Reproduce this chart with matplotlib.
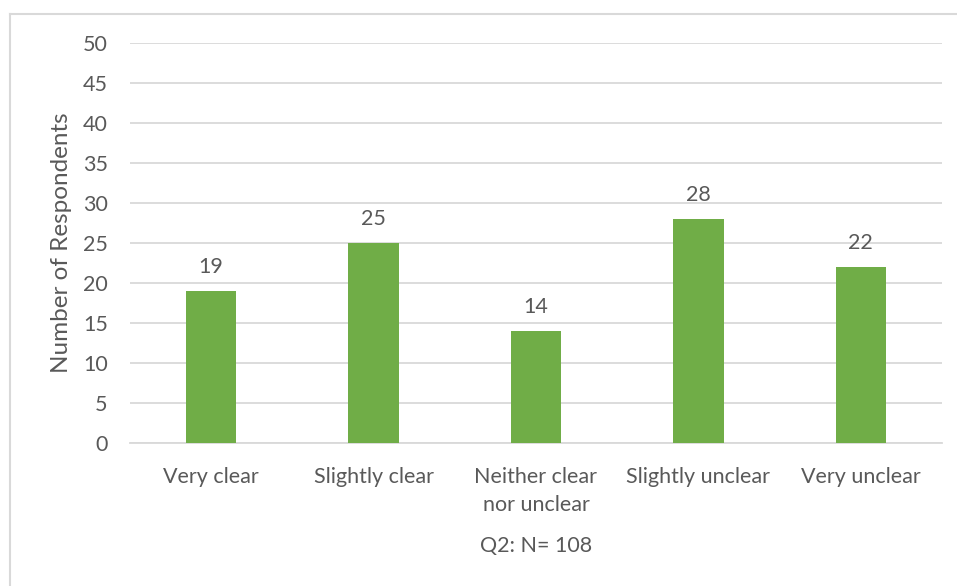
import matplotlib
matplotlib.use("Agg")
import matplotlib.pyplot as plt
from matplotlib.lines import Line2D

categories = ["Very clear", "Slightly clear", "Neither clear\nnor unclear",
              "Slightly unclear", "Very unclear"]
counts = [19, 25, 14, 28, 22]
y_ticks = [0, 5, 10, 15, 20, 25, 30, 35, 40, 45, 50]
y_label = "Number of Respondents"
x_title = "Q2: N= 108"

W, H = 957, 586
text_color = "#595959"
grid_color = "#d9d9d9"
bar_color = "#70ad47"
fs = 15.5

plt.rcParams["font.family"] = ["Lato", "DejaVu Sans"]

fig = plt.figure(figsize=(W / 100, H / 100), dpi=100)
ax = fig.add_axes([130 / W, 1 - 443 / H, (942 - 130) / W, (443 - 43) / H])

x = list(range(len(categories)))
ax.bar(x, counts, width=0.31, color=bar_color, zorder=3)
for xi, v in zip(x, counts):
    ax.annotate(str(v), (xi, v), xytext=(0, 10), textcoords="offset points",
                ha="center", va="bottom", fontsize=fs, color=text_color)

ax.set_xlim(-0.5, len(categories) - 0.5)
ax.set_ylim(0, 50)
ax.set_yticks(y_ticks)
ax.yaxis.grid(True, color=grid_color, linewidth=1.3, zorder=0)
ax.set_axisbelow(True)
for s in ["top", "right", "left"]:
    ax.spines[s].set_visible(False)
ax.spines["bottom"].set_color(grid_color)
ax.spines["bottom"].set_linewidth(1.3)
ax.tick_params(axis="y", length=0, pad=16, labelsize=fs, labelcolor=text_color)
ax.tick_params(axis="x", length=0, pad=17, labelsize=fs, labelcolor=text_color)
ax.set_xticks(x)
ax.set_xticklabels(categories, linespacing=1.55)

fig.text(62 / W, 1 - 243 / H, y_label, rotation=90, ha="center", va="center",
         fontsize=17.5, color=text_color)
fig.text(536 / W, 1 - 546 / H, x_title, ha="center", va="center",
         fontsize=fs, color=text_color)

# chart frame (top and left edges)
fig.add_artist(Line2D([10 / W, 1], [1 - 14 / H, 1 - 14 / H], color=grid_color,
                      linewidth=1.5, transform=fig.transFigure))
fig.add_artist(Line2D([10 / W, 10 / W], [0, 1 - 14 / H], color=grid_color,
                      linewidth=1.5, transform=fig.transFigure))

fig.savefig("out.png", dpi=100, facecolor="white")
